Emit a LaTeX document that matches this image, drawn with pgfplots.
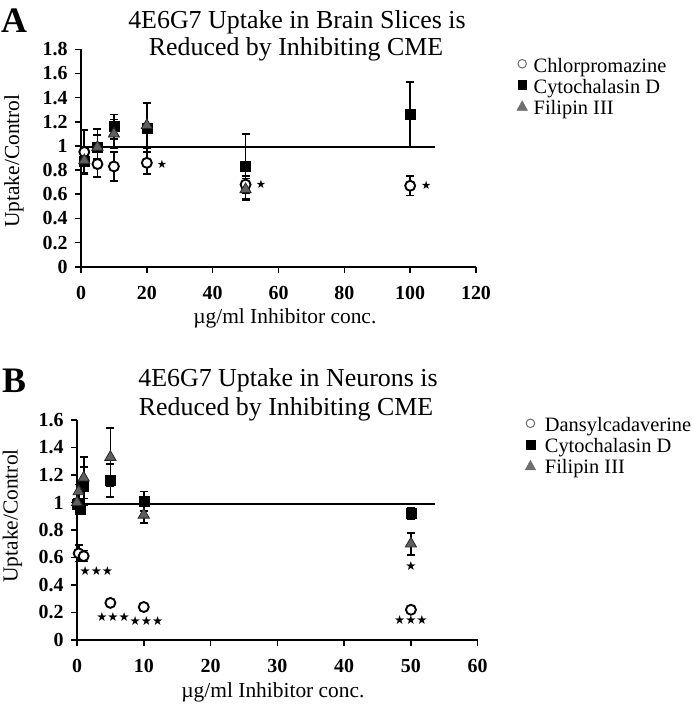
\documentclass[border=0pt]{standalone}
\usepackage{pgfplots}
\pgfplotsset{compat=1.18}
\usepackage{fontspec}
\setmainfont{Liberation Serif}
\newfontfamily\sym{DejaVu Sans}
\definecolor{trigray}{RGB}{95,95,95}
\definecolor{leggray}{RGB}{110,110,110}

\pgfplotsset{
  panel/.style={
    scale only axis,
    axis x line=bottom, axis y line=left,
    axis line style={line width=2.2pt, -},
    tick style={line width=1.6pt, black},
    tick align=outside, major tick length=6pt,
    ticklabel style={font=\fontsize{20}{20}\selectfont\bfseries},
    xticklabel style={yshift=-10pt},
    yticklabel style={xshift=-4pt},
    /pgf/number format/assume math mode=true,
    label style={font=\fontsize{21.5}{21.5}\selectfont},
    clip=false,
    legend cell align=left,
    legend style={draw=none, fill=none, anchor=north west, row sep=3.5pt,
      font=\fontsize{20.5}{20.5}\selectfont, nodes={inner sep=1pt}},
  },
  eb/.style={error bars/y dir=both, error bars/y explicit,
    error bars/error bar style={line width=1.7pt, black},
    error bars/error mark options={rotate=90, mark size=4pt, line width=1.7pt, black}},
  circ/.style={only marks, mark=*, mark size=5pt,
    mark options={fill=white, draw=black, line width=1.9pt}, eb,
    legend image code/.code={\draw[leggray, line width=1pt, fill=white] (0pt,0.2em) circle (4.3pt);}},
  sq/.style={only marks, mark=square*, mark size=5pt,
    mark options={fill=black, draw=black}, eb,
    legend image code/.code={\fill[black] (-4.3pt,0.2em-4.3pt) rectangle (4.3pt,0.2em+4.3pt);}},
  tri/.style={only marks, mark=triangle*, mark size=6.5pt,
    mark options={fill=trigray, draw=black!85, line width=0.8pt}, eb,
    legend image code/.code={\fill[leggray] (-5.3pt,0.2em-4.3pt) -- (5.3pt,0.2em-4.3pt) -- (0pt,0.2em+5.3pt) -- cycle;}},
  stars/.style={draw=none, mark=none, forget plot, nodes near coords,
    point meta=explicit symbolic,
    every node near coord/.style={anchor=center, inner sep=0pt, font=\sym\fontsize{#1}{#1}\selectfont}},
  oneline/.style={line width=2.6pt, black, forget plot, mark=none},
}

\begin{document}
\begin{tikzpicture}
\path[use as bounding box] (0,0) rectangle (693bp,-704bp);

% panel labels and titles
\node[anchor=base west, inner sep=0pt, font=\fontsize{36}{36}\selectfont\bfseries] at (1bp,-32bp) {A};
\node[anchor=base, inner sep=0pt, font=\fontsize{26}{26}\selectfont] at (297bp,-28bp) {4E6G7 Uptake in Brain Slices is};
\node[anchor=base, inner sep=0pt, font=\fontsize{26}{26}\selectfont] at (296bp,-55bp) {Reduced by Inhibiting CME};
\node[anchor=base west, inner sep=0pt, font=\fontsize{36}{36}\selectfont\bfseries] at (2bp,-392bp) {B};
\node[anchor=base, inner sep=0pt, font=\fontsize{26}{26}\selectfont] at (288bp,-386bp) {4E6G7 Uptake in Neurons is};
\node[anchor=base, inner sep=0pt, font=\fontsize{26}{26}\selectfont] at (286bp,-415bp) {Reduced by Inhibiting CME};

% ---------------- panel A
\begin{axis}[panel,
  at={(81bp,-266.7bp)}, anchor=south west,
  width=395bp, height=217.4bp,
  xmin=0, xmax=120, ymin=0, ymax=1.8,
  xtick={0,20,...,120}, ytick={0,0.2,...,1.8},
  yticklabel style={/pgf/number format/.cd, fixed, precision=1},
  xlabel={µg/ml Inhibitor conc.},
  ylabel={Uptake/Control},
  xlabel style={at={(axis description cs:0.516,-0.259)}, anchor=base},
  ylabel style={at={(axis description cs:-0.170,0.486)}, anchor=center},
  legend style={at={(axis description cs:1.095,0.975)},
    /tikz/every odd column/.append style={column sep=5pt}},
]
\addplot[oneline] coordinates {(0,0.99) (107.6,0.99)};
\addplot[circ] table[y error=e] {
x y e
1 0.95 0.18
5 0.85 0.11
10 0.83 0.12
20 0.86 0.09
50 0.68 0.07
100 0.67 0.08
};
\addlegendentry{Chlorpromazine}
\addplot[sq] table[y error=e] {
x y e
1 0.87 0.10
5 0.99 0.15
10 1.16 0.10
20 1.15 0.20
50 0.83 0.27
100 1.26 0.27
};
\addlegendentry{Cytochalasin D}
\addplot[tri] table[y error=e] {
x y e
1 0.88 0.10
5 0.99 0.10
10 1.10 0.12
20 1.17 0.19
50 0.64 0.09
};
\addlegendentry{Filipin III}
\addplot[stars=11.5] table[meta=s] {
x y s
24.6 0.845 ★
54.7 0.68 ★
104.9 0.67 ★
};
\end{axis}

% ---------------- panel B
\begin{axis}[panel,
  at={(77bp,-640bp)}, anchor=south west,
  width=400.7bp, height=220bp,
  xmin=0, xmax=60, ymin=0, ymax=1.6,
  xtick={0,10,...,60}, ytick={0,0.2,...,1.6},
  yticklabel style={/pgf/number format/.cd, fixed, precision=1},
  xlabel={µg/ml Inhibitor conc.},
  ylabel={Uptake/Control},
  xlabel style={at={(axis description cs:0.489,-0.262)}, anchor=base},
  ylabel style={at={(axis description cs:-0.161,0.564)}, anchor=center},
  legend style={at={(axis description cs:1.11,1.026)},
    /tikz/every odd column/.append style={column sep=8pt}},
]
\addplot[oneline] coordinates {(0,0.99) (53.6,0.99)};
\addplot[circ] table[y error=e] {
x y e
0.25 0.63 0.06
1 0.61 0.04
5 0.27 0
10 0.24 0
50 0.22 0
};
\addlegendentry{Dansylcadaverine}
\addplot[sq] table[y error=e] {
x y e
0 0.99 0.03
0.5 0.95 0.03
1 1.12 0.14
5 1.16 0.12
10 1.01 0.07
50 0.92 0.04
};
\addlegendentry{Cytochalasin D}
\addplot[tri] table[y error=e] {
x y e
0 1.00 0.03
0.25 1.08 0.05
1 1.18 0.15
5 1.33 0.21
10 0.91 0.06
50 0.70 0.08
};
\addlegendentry{Filipin III}
\addplot[stars=12.5] table[meta=s] {
x y s
2.9 0.50 ★★★
5.4 0.17 ★★★
10.4 0.14 ★★★
50 0.145 ★★★
50 0.54 ★
};
\end{axis}
\end{tikzpicture}
\end{document}
